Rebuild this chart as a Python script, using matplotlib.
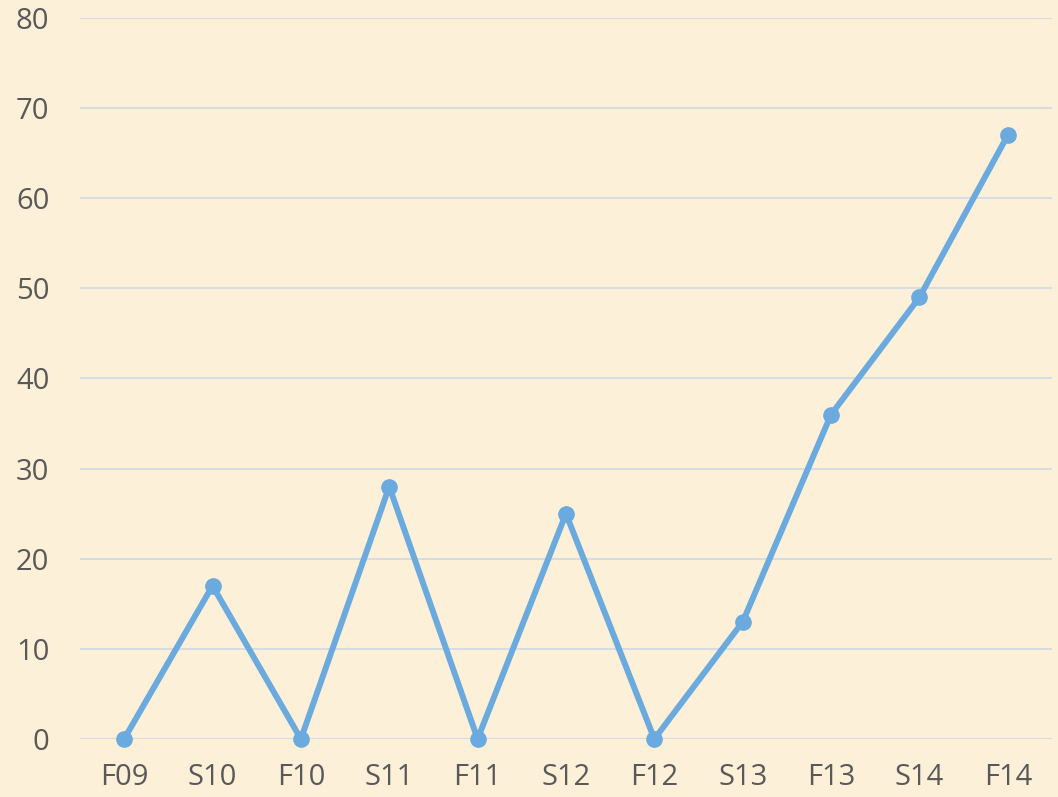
import numpy as np
import matplotlib.pyplot as plt

# ------------------ DATA ------------------
terms = ["F09", "S10", "F10", "S11", "F11", "S12", "F12", "S13", "F13", "S14", "F14"]
counts = [0, 17, 0, 28, 0, 25, 0, 13, 36, 49, 67]
yticks = [0, 10, 20, 30, 40, 50, 60, 70, 80]

plt.rcParams['font.family'] = ['Open Sans', 'DejaVu Sans']

bg = "#FCF1D8"
fig = plt.figure(figsize=(10.58, 7.97), dpi=100, facecolor=bg)
ax = fig.add_axes([0.0756, 0.0728, 0.9187, 0.9046], facecolor=bg)

x = np.arange(len(terms))
ax.plot(x, counts, color="#6AAADE", lw=4.3, marker="o", ms=11,
        solid_capstyle="round", zorder=3, clip_on=False)

ax.set_xlim(-0.5, len(terms) - 0.5)
ax.set_ylim(0, 80)
ax.set_yticks(yticks)
ax.set_xticks(x)
ax.set_xticklabels(terms)
ax.grid(axis="y", color="#D6DCE2", lw=1.5, zorder=0)
for s in ax.spines.values():
    s.set_visible(False)
ax.tick_params(length=0, labelsize=21, colors="#595959")
ax.tick_params(axis="x", pad=17)
ax.tick_params(axis="y", pad=22)

fig.savefig("out.png", dpi=100, facecolor=bg)
